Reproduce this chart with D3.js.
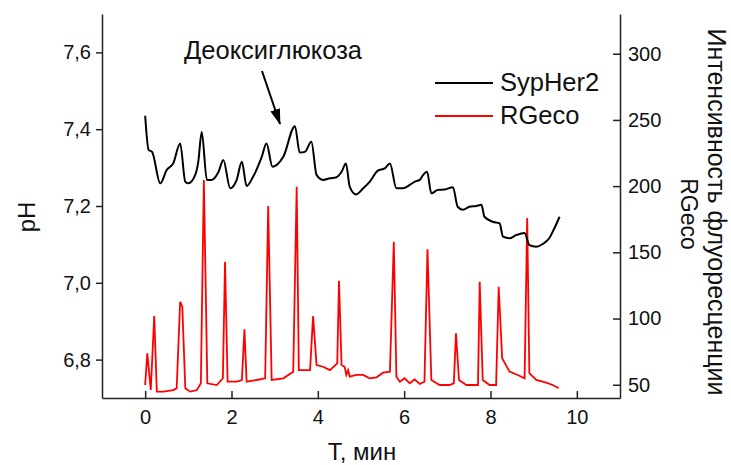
<!DOCTYPE html>
<meta charset="utf-8">
<head>
<style>
  body { margin: 0; background: #fff; }
  svg text { font-family: Arial, "Liberation Sans", sans-serif; fill: #111; }
  .axis path, .axis line { stroke: #222; stroke-width: 1.5; }
  .axis text { font-size: 20px; }
</style>
</head>
<body>
<div class="chart"></div>
<script src="https://d3js.org/d3.v7.min.js"></script>
<script>
// SypHer2 (pH, left axis)
const sypherT = [0, 0.08, 0.16, 0.35, 0.5, 0.65, 0.81, 0.93, 1.0, 1.16, 1.23, 1.31, 1.43, 1.54, 1.7, 1.81,
  1.97, 2.12, 2.24, 2.35, 2.5, 2.7, 2.81, 2.95, 3.05, 3.2, 3.47, 3.58, 3.7, 3.85, 3.97, 4.12, 4.28, 4.43,
  4.55, 4.65, 4.74, 4.89, 5.05, 5.2, 5.39, 5.55, 5.67, 5.82, 5.97, 6.13, 6.24, 6.36, 6.44, 6.53, 6.63,
  6.78, 6.94, 7.13, 7.24, 7.36, 7.51, 7.67, 7.79, 7.86, 8.05, 8.21, 8.29, 8.44, 8.59, 8.79, 8.9, 9.06,
  9.21, 9.36, 9.48, 9.6];
const sypherPH = [7.435, 7.346, 7.341, 7.259, 7.294, 7.311, 7.363, 7.263, 7.259, 7.281, 7.315, 7.393,
  7.268, 7.268, 7.289, 7.32, 7.246, 7.268, 7.315, 7.252, 7.276, 7.328, 7.363, 7.302, 7.307, 7.328, 7.408,
  7.339, 7.341, 7.367, 7.281, 7.268, 7.272, 7.275, 7.289, 7.311, 7.25, 7.23, 7.246, 7.263, 7.292, 7.298,
  7.311, 7.246, 7.246, 7.255, 7.263, 7.268, 7.281, 7.289, 7.233, 7.242, 7.243, 7.249, 7.198, 7.19, 7.198,
  7.2, 7.203, 7.172, 7.159, 7.155, 7.12, 7.116, 7.124, 7.13, 7.098, 7.094, 7.101, 7.116, 7.142, 7.172];

// RGeco (fluorescence intensity, right axis)
const rgecoT = [0, 0.05, 0.13, 0.21, 0.27, 0.42, 0.65, 0.73, 0.81, 0.86, 0.93, 1.04, 1.2, 1.29, 1.36, 1.44,
  1.66, 1.8, 1.85, 1.91, 2.12, 2.24, 2.3, 2.35, 2.58, 2.78, 2.85, 2.93, 3.2, 3.43, 3.51, 3.56, 3.82, 3.89,
  3.97, 4.12, 4.28, 4.45, 4.49, 4.55, 4.62, 4.66, 4.7, 4.74, 4.89, 5.05, 5.2, 5.36, 5.51, 5.67, 5.76, 5.82,
  5.9, 6.01, 6.13, 6.24, 6.36, 6.47, 6.54, 6.63, 6.82, 7.05, 7.15, 7.2, 7.27, 7.44, 7.71, 7.75, 7.82, 7.98,
  8.13, 8.19, 8.27, 8.44, 8.63, 8.79, 8.85, 8.9, 9.06, 9.29, 9.44, 9.58];
const rgecoI = [49.8, 73.8, 46, 101.9, 44.8, 44.8, 46, 47.3, 112.7, 109, 47.3, 44.8, 46, 51.1, 204.6, 51.1,
  49.8, 54.9, 142.9, 52.3, 52.3, 53.6, 91.9, 52.3, 53.6, 54.9, 185, 53.6, 54.9, 59.9, 199.6, 61.1, 61.1, 101.9,
  64.9, 63.6, 61.1, 66.2, 128.6, 64.9, 63.6, 57.4, 61.1, 56.1, 57.4, 57.4, 54.9, 55.6, 59.1, 59.9, 158, 56.1,
  52.3, 54.9, 51.1, 54.1, 50.6, 52.3, 152.3, 53.6, 49.8, 49.8, 51.1, 88.9, 53.6, 49.8, 49.8, 127.8, 53.6, 49.8,
  49.8, 124, 70, 59.9, 57.4, 54.9, 176, 58.7, 53.6, 51.6, 49.8, 47.3];

const xTicks = [0, 2, 4, 6, 8, 10];
const phTicks = [6.8, 7.0, 7.2, 7.4, 7.6];
const intTicks = [50, 100, 150, 200, 250, 300];
const seriesNames = ['SypHer2', 'RGeco'];
const seriesColors = ['#000000', '#ff0000'];

const W = 731, H = 465;
const mLeft = 102, mRight = 620, mTop = 14, mBottom = 398;

const svg = d3.select('.chart').append('svg')
  .attr('width', W)
  .attr('height', H);

const x = d3.scaleLinear().domain([-1, 11]).range([mLeft, mRight]);
const yPH = d3.scaleLinear().domain([6.7, 7.7]).range([mBottom, mTop]);
const yInt = d3.scaleLinear().domain([40, 330]).range([mBottom, mTop]);

const comma = d => d3.format('.1f')(d).replace('.', ',');

svg.append('g')
  .attr('class', 'axis')
  .attr('transform', `translate(0, ${mBottom})`)
  .call(d3.axisBottom(x).tickValues(xTicks).tickSize(-7).tickSizeOuter(0).tickPadding(12));

svg.append('g')
  .attr('class', 'axis')
  .attr('transform', `translate(${mLeft}, 0)`)
  .call(d3.axisLeft(yPH).tickValues(phTicks).tickFormat(comma).tickSize(6).tickSizeOuter(0).tickPadding(5));

svg.append('g')
  .attr('class', 'axis')
  .attr('transform', `translate(${mRight}, 0)`)
  .call(d3.axisRight(yInt).tickValues(intTicks).tickSize(-7).tickSizeOuter(0).tickPadding(8));

// lines
const sypher = sypherT.map((t, i) => [t, sypherPH[i]]);
const rgeco = rgecoT.map((t, i) => [t, rgecoI[i]]);

svg.append('path')
  .datum(rgeco)
  .attr('fill', 'none')
  .attr('stroke', seriesColors[1])
  .attr('stroke-width', 1.8)
  .attr('d', d3.line().x(d => x(d[0])).y(d => yInt(d[1])));

svg.append('path')
  .datum(sypher)
  .attr('fill', 'none')
  .attr('stroke', seriesColors[0])
  .attr('stroke-width', 2)
  .attr('d', d3.line().curve(d3.curveMonotoneX).x(d => x(d[0])).y(d => yPH(d[1])));

// axis titles
svg.append('text')
  .attr('x', 362).attr('y', 460)
  .attr('text-anchor', 'middle')
  .style('font-size', '24px')
  .text('T, мин');

svg.append('text')
  .attr('transform', 'translate(35, 217) rotate(-90)')
  .attr('text-anchor', 'middle')
  .style('font-size', '24px')
  .text('pH');

svg.append('text')
  .attr('transform', 'translate(708, 212) rotate(90)')
  .attr('text-anchor', 'middle')
  .style('font-size', '25px')
  .text('Интенсивность флуоресценции');

svg.append('text')
  .attr('transform', 'translate(681, 214) rotate(90)')
  .attr('text-anchor', 'middle')
  .style('font-size', '23px')
  .text('RGeco');

// legend
const legend = svg.append('g');
seriesNames.forEach((name, i) => {
  const ly = 83 + i * 33;
  legend.append('line')
    .attr('x1', 435).attr('x2', 493)
    .attr('y1', ly).attr('y2', ly)
    .attr('stroke', seriesColors[i])
    .attr('stroke-width', 2);
  legend.append('text')
    .attr('x', 500).attr('y', ly + 8)
    .style('font-size', '25.5px')
    .text(name);
});

// annotation
svg.append('defs').append('marker')
  .attr('id', 'head')
  .attr('viewBox', '0 0 16 10')
  .attr('refX', 15).attr('refY', 5)
  .attr('markerWidth', 16).attr('markerHeight', 10)
  .attr('markerUnits', 'userSpaceOnUse')
  .attr('orient', 'auto')
  .append('path')
  .attr('d', 'M0,0 L16,5 L0,10 Z')
  .attr('fill', '#000');

svg.append('line')
  .attr('x1', 262).attr('y1', 71)
  .attr('x2', 280).attr('y2', 124)
  .attr('stroke', '#000')
  .attr('stroke-width', 2)
  .attr('marker-end', 'url(#head)');

svg.append('text')
  .attr('x', 184).attr('y', 59)
  .style('font-size', '25.5px')
  .text('Деоксиглюкоза');
</script>
</body>
